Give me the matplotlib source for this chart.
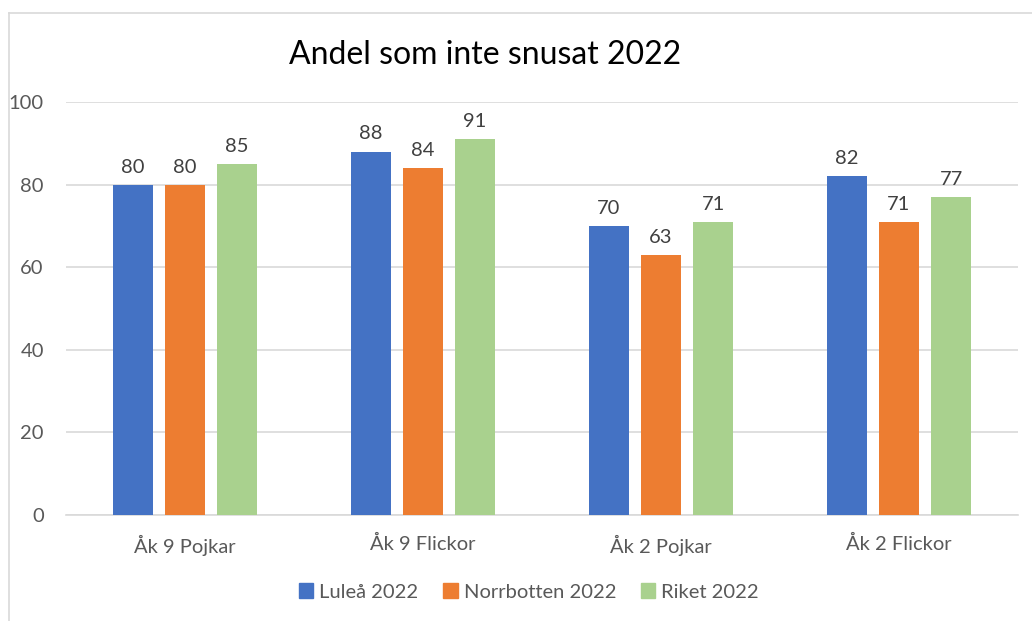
import matplotlib.pyplot as plt
import numpy as np
from matplotlib.lines import Line2D
from matplotlib.patches import Patch

categories = ["Åk 9 Pojkar", "Åk 9 Flickor", "Åk 2 Pojkar", "Åk 2 Flickor"]
series_names = ["Luleå 2022", "Norrbotten 2022", "Riket 2022"]
lulea = [80, 88, 70, 82]
norrbotten = [80, 84, 63, 71]
riket = [85, 91, 71, 77]
yticks = [0, 20, 40, 60, 80, 100]

colors = ["#4472C4", "#ED7D31", "#A9D18E"]
FONT = "Lato"
W, H = 1032, 621

fig = plt.figure(figsize=(W / 100, H / 100), dpi=100)
ax = fig.add_axes([66 / W, 1 - 515 / H, (1018 - 66) / W, (515 - 102) / H])

x = np.arange(len(categories))
step = 0.2185
width = 0.172
for i, (vals, col) in enumerate(zip([lulea, norrbotten, riket], colors)):
    pos = x + (i - 1) * step
    ax.bar(pos, vals, width, color=col, zorder=3)
    for px, v in zip(pos, vals):
        ax.text(px, v + 2.2, str(v), ha="center", va="bottom",
                fontsize=14.5, color="#404040", family=FONT)

ax.set_xlim(-0.5, 3.5)
ax.set_ylim(0, 100)
ax.set_yticks(yticks)
ax.grid(axis="y", color="#d9d9d9", linewidth=1.2, zorder=0)
for s in ["top", "right", "left"]:
    ax.spines[s].set_visible(False)
ax.spines["bottom"].set_color("#d9d9d9")
ax.spines["bottom"].set_linewidth(1.2)
ax.tick_params(axis="both", length=0, colors="#595959", labelsize=14.5)
ax.tick_params(axis="y", pad=16)
ax.tick_params(axis="x", pad=14)
ax.set_xticks(x)
ax.set_xticklabels(categories)
for lab in ax.get_xticklabels() + ax.get_yticklabels():
    lab.set_family(FONT)

fig.text(485 / W, 1 - 55 / H, "Andel som inte snusat 2022", ha="center", va="center",
         fontsize=23, color="black", family=FONT)

handles = [Patch(color=c) for c in colors]
leg = fig.legend(handles, series_names, loc="center", bbox_to_anchor=(529 / W, 1 - 592 / H),
                 ncol=3, frameon=False, handlelength=0.7, handleheight=0.7,
                 handletextpad=0.3, columnspacing=1.25,
                 prop={"family": FONT, "size": 14.5})
for t in leg.get_texts():
    t.set_color("#595959")

# chart area border
fig.add_artist(Line2D([9 / W, 9 / W], [0, 1 - 13 / H], transform=fig.transFigure,
                      color="#d9d9d9", linewidth=1.2))
fig.add_artist(Line2D([9 / W, 1], [1 - 13 / H, 1 - 13 / H], transform=fig.transFigure,
                      color="#d9d9d9", linewidth=1.2))

fig.savefig("out.png", dpi=100)
